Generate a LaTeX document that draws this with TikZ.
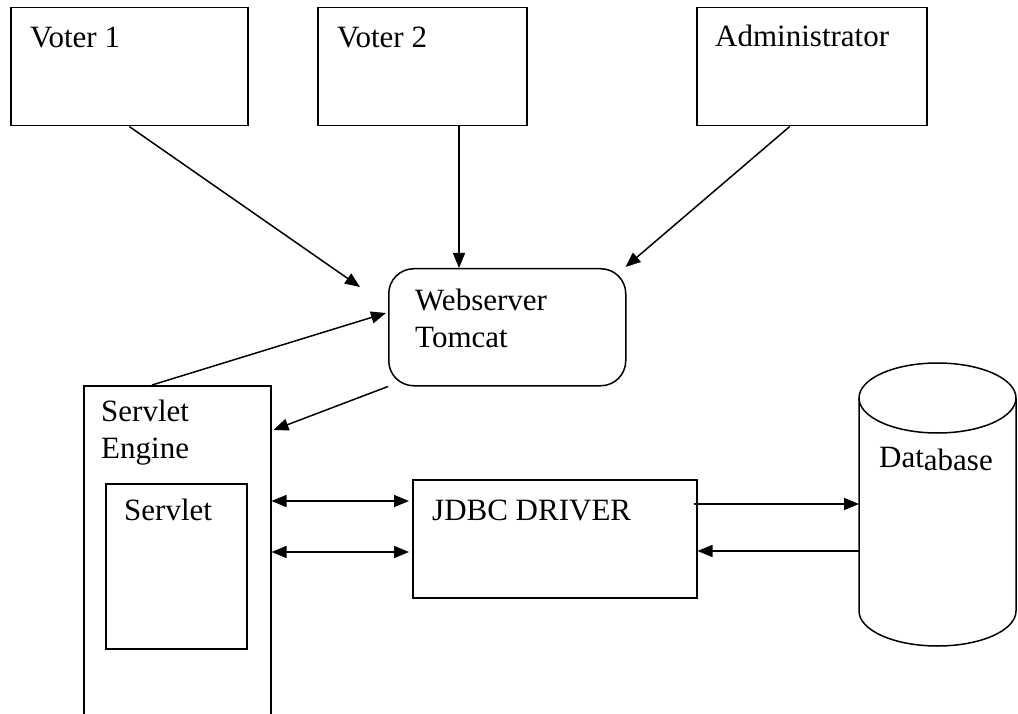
\documentclass[tikz,border=0pt]{standalone}
\usepackage{fontspec}
\setmainfont{Liberation Serif}
\usepackage{tikz}
\usetikzlibrary{arrows.meta,positioning,calc}

\tikzset{
  box/.style={draw, line width=1.5pt, rectangle, inner sep=0pt, anchor=north west},
  lbl/.style={anchor=base west, inner sep=0pt, align=left,
    font=\fontsize{31}{37}\selectfont},
  conn/.style={line width=1.5pt, -{Triangle[length=15pt,width=12pt]}},
  biconn/.style={line width=1.5pt,
    {Triangle[length=15pt,width=12pt]}-{Triangle[length=15pt,width=12pt]}},
}

\begin{document}
\begin{tikzpicture}[x=1pt,y=-1pt]
  \useasboundingbox (0,0) rectangle (1018,714);

  % clients
  \node[box, minimum width=237pt, minimum height=118pt] (voter1) at (10,7) {};
  \node[box, minimum width=209pt, minimum height=118pt] (voter2) at (317,7) {};
  \node[box, minimum width=230pt, minimum height=118pt] (admin) at (696,7) {};
  \node[lbl] (voter1txt) at (30,48) {Voter 1};
  \node[lbl] (voter2txt) at (337,48) {Voter 2};
  \node[lbl] (admintxt) at (715,47) {Administrator};

  % server side
  \node[box, rounded corners=25pt, minimum width=237pt, minimum height=117pt] (webserver) at (388,268) {};
  \node[lbl] (webtxt) at (415,347) {Webserver\\Tomcat};
  \node[box, minimum width=187pt, minimum height=345pt] (engine) at (83,385) {};
  \node[lbl] (enginetxt) at (101,458) {Servlet\\Engine};
  \node[box, minimum width=141pt, minimum height=165pt] (servlet) at (105,483) {};
  \node[lbl] (servlettxt) at (124,520) {Servlet};
  \node[box, minimum width=284pt, minimum height=118pt] (jdbc) at (412,479) {};
  \node[lbl] (jdbctxt) at (432,520) {JDBC DRIVER};

  % database
  \coordinate (dbleft) at (859,398);
  \draw[line width=1.5pt] (937.5,398) ellipse [x radius=78.5, y radius=35];
  \draw[line width=1.5pt] (859,398) -- (859,611)
    arc[start angle=180, end angle=0, x radius=78.5, y radius=35] -- (1016,398);
  \node[lbl] (dbtxt) at (879,467) {Dat\raisebox{-3pt}{abase}};

  % requests
  \coordinate (w1) at (360,287);
  \draw[conn] (voter1.south) -- (w1);
  \draw[conn] ([xshift=142pt]voter2.south west) -- ([xshift=142pt]voter2.south west |- webserver.north);
  \draw[conn] ([xshift=-22pt]admin.south) -- ([shift={(-1pt,1pt)}]webserver.north east);
  \draw[conn] ([xshift=69pt]engine.north west) -- ([shift={(-2pt,-45pt)}]webserver.north west);
  \draw[conn] (webserver.south west) -- ([shift={(2pt,-45pt)}]engine.north east);

  % jdbc links
  \draw[biconn] ([yshift=-22pt]jdbc.north west -| engine.east) -- ([shift={(-3pt,-22pt)}]jdbc.north west);
  \draw[biconn] ([yshift=-73pt]jdbc.north west -| engine.east) -- ([shift={(-3pt,-73pt)}]jdbc.north west);
  \draw[conn] ([shift={(-4pt,-25pt)}]jdbc.north east) -- ([yshift=-25pt]jdbc.north east -| dbleft);
  \draw[conn] ([yshift=-72pt]jdbc.north east -| dbleft) -- ([yshift=-72pt]jdbc.north east);
\end{tikzpicture}
\end{document}
